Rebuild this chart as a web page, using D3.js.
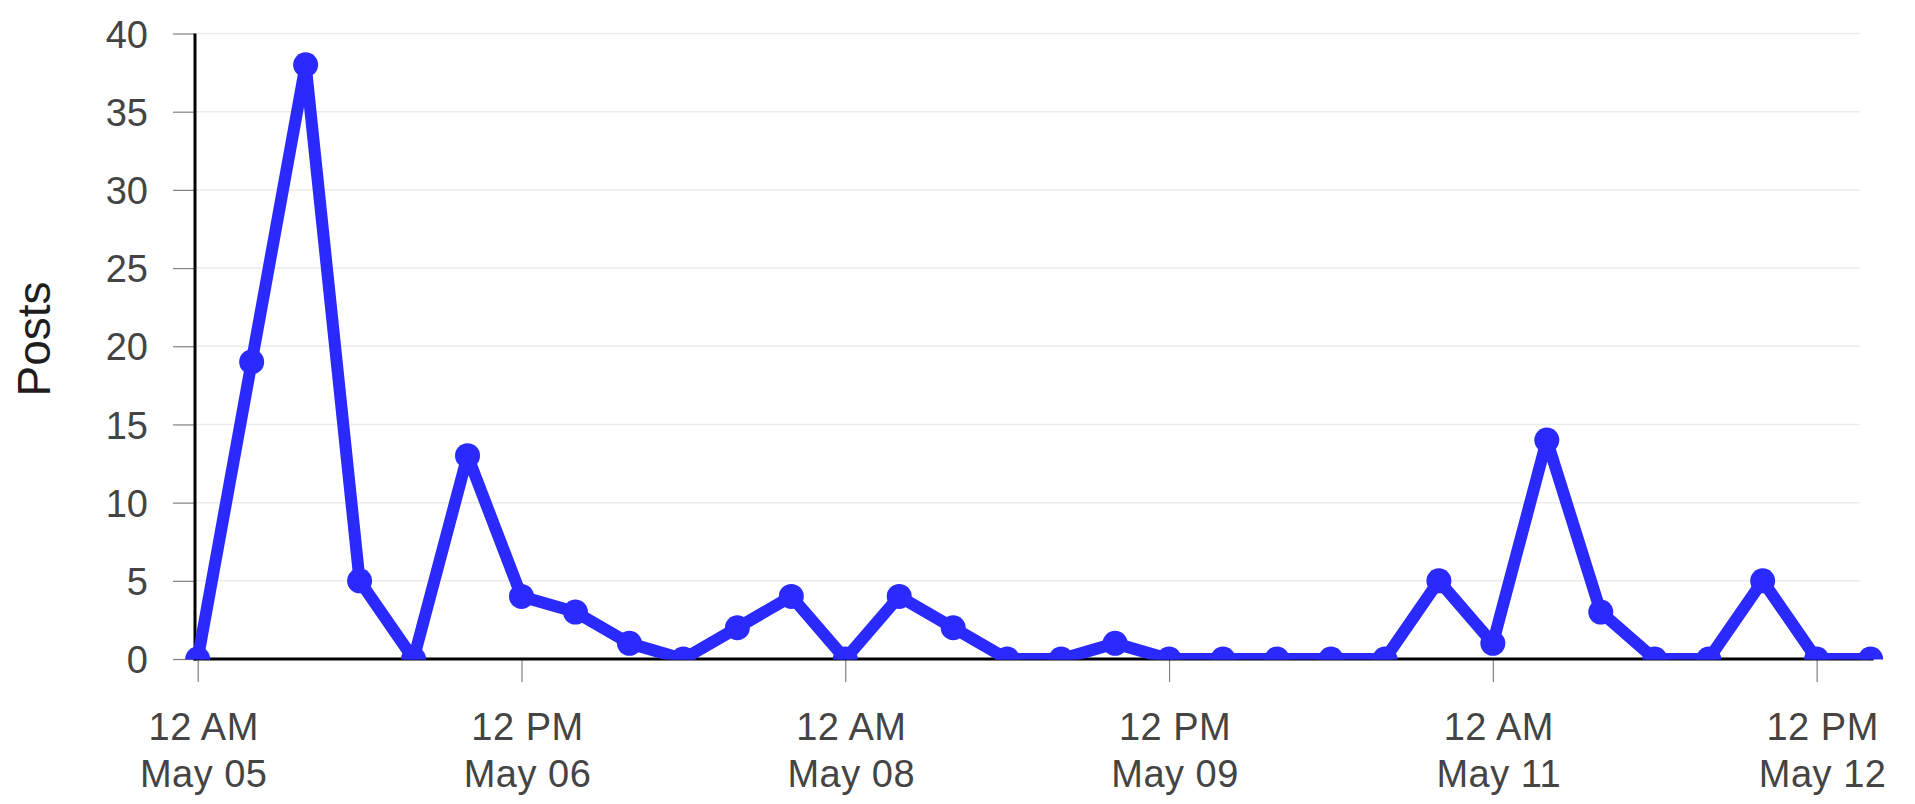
<!DOCTYPE html>
<html>
<head>
<meta charset="utf-8">
<script src="https://cdn.jsdelivr.net/npm/d3@7/dist/d3.min.js"></script>
<style>
  html, body { margin: 0; padding: 0; background: #fff; }
  svg { display: block; }
  text { font-family: "Liberation Sans", Arial, Helvetica, sans-serif; }
</style>
</head>
<body>
<svg id="chart" width="1915" height="804"></svg>
<script>
// ---- data ----
const times = [
  "2015-05-05T00:00", "2015-05-05T06:00", "2015-05-05T12:00", "2015-05-05T18:00",
  "2015-05-06T00:00", "2015-05-06T06:00", "2015-05-06T12:00", "2015-05-06T18:00",
  "2015-05-07T00:00", "2015-05-07T06:00", "2015-05-07T12:00", "2015-05-07T18:00",
  "2015-05-08T00:00", "2015-05-08T06:00", "2015-05-08T12:00", "2015-05-08T18:00",
  "2015-05-09T00:00", "2015-05-09T06:00", "2015-05-09T12:00", "2015-05-09T18:00",
  "2015-05-10T00:00", "2015-05-10T06:00", "2015-05-10T12:00", "2015-05-10T18:00",
  "2015-05-11T00:00", "2015-05-11T06:00", "2015-05-11T12:00", "2015-05-11T18:00",
  "2015-05-12T00:00", "2015-05-12T06:00", "2015-05-12T12:00", "2015-05-12T18:00"
];
const posts = [
  0, 19, 38, 5,
  0, 13, 4, 3,
  1, 0, 2, 4,
  0, 4, 2, 0,
  0, 1, 0, 0,
  0, 0, 0, 5,
  1, 14, 3, 0,
  0, 5, 0, 0
];
const xTickTimes = [
  "2015-05-05T00:00", "2015-05-06T12:00", "2015-05-08T00:00",
  "2015-05-09T12:00", "2015-05-11T00:00", "2015-05-12T12:00"
];
const xTickLabels = [
  ["12 AM", "May 05"], ["12 PM", "May 06"], ["12 AM", "May 08"],
  ["12 PM", "May 09"], ["12 AM", "May 11"], ["12 PM", "May 12"]
];
const yTicks = [0, 5, 10, 15, 20, 25, 30, 35, 40];
const yLabel = "Posts";

// ---- layout ----
const parse = d3.timeParse("%Y-%m-%dT%H:%M");
const data = times.map((t, i) => ({ t: parse(t), v: posts[i] }));
const tickDates = xTickTimes.map(parse);

const x0 = 197.7, x1 = 1870.6;
const y0 = 659, y1 = 33.5;
const axisX = 195;
const lineColor = "#2a2aff";

const x = d3.scaleTime()
  .domain(d3.extent(data, d => d.t))
  .range([x0, x1]);
const y = d3.scaleLinear()
  .domain([0, 40])
  .range([y0, y1]);

const svg = d3.select("#chart");
svg.append("rect").attr("width", 1915).attr("height", 804).attr("fill", "#fff");

// gridlines
svg.append("g")
  .selectAll("line")
  .data(yTicks.filter(d => d > 0))
  .join("line")
  .attr("x1", axisX).attr("x2", 1860)
  .attr("y1", d => y(d)).attr("y2", d => y(d))
  .attr("stroke", "#ebebeb")
  .attr("stroke-width", 1.5);

// y axis
const yAxis = svg.append("g")
  .attr("transform", `translate(${axisX},0)`)
  .call(d3.axisLeft(y).tickValues(yTicks).tickSize(22).tickPadding(25).tickFormat(d3.format("d")));
yAxis.select(".domain").remove();
yAxis.selectAll(".tick line").attr("stroke", "#808080").attr("stroke-width", 1.2);
yAxis.selectAll(".tick text")
  .attr("fill", "#444")
  .style("font-size", "38px")
  .attr("dy", "0.36em");

// x axis
const xAxis = svg.append("g")
  .attr("transform", `translate(0,${y0 + 1})`)
  .call(d3.axisBottom(x).tickValues(tickDates).tickSize(22).tickFormat(() => ""));
xAxis.select(".domain").remove();
xAxis.selectAll(".tick line").attr("stroke", "#808080").attr("stroke-width", 1.2);
xAxis.selectAll(".tick text").remove();

const xLab = svg.append("g");
tickDates.forEach((d, i) => {
  const t = xLab.append("text")
    .attr("x", x(d) + 6)
    .attr("text-anchor", "middle")
    .attr("fill", "#444")
    .style("font-size", "38px")
    .style("letter-spacing", "0.5px");
  t.append("tspan").attr("x", x(d) + 6).attr("y", 740).text(xTickLabels[i][0]);
  t.append("tspan").attr("x", x(d) + 6).attr("y", 787).text(xTickLabels[i][1]);
});

// axis lines (black)
svg.append("line")
  .attr("x1", axisX).attr("x2", axisX)
  .attr("y1", y(40)).attr("y2", y0 + 1.5)
  .attr("stroke", "#000").attr("stroke-width", 3);
svg.append("line")
  .attr("x1", axisX - 1.5).attr("x2", x1 + 3)
  .attr("y1", y0).attr("y2", y0)
  .attr("stroke", "#000").attr("stroke-width", 3);

// y label
svg.append("text")
  .attr("transform", "translate(50,339) rotate(-90)")
  .attr("text-anchor", "middle")
  .attr("fill", "#1e1e1e")
  .style("font-size", "46px")
  .text(yLabel);

// clipped data
svg.append("clipPath").attr("id", "plotclip")
  .append("rect").attr("x", 0).attr("y", 0).attr("width", 1915).attr("height", y0 + 0.5);

const plot = svg.append("g").attr("clip-path", "url(#plotclip)");
plot.append("path")
  .datum(data)
  .attr("fill", "none")
  .attr("stroke", lineColor)
  .attr("stroke-width", 12)
  .attr("stroke-linejoin", "round")
  .attr("d", d3.line().x(d => x(d.t)).y(d => y(d.v)));
plot.selectAll("circle")
  .data(data)
  .join("circle")
  .attr("cx", d => x(d.t))
  .attr("cy", d => y(d.v))
  .attr("r", 12.5)
  .attr("fill", lineColor);
</script>
</body>
</html>
